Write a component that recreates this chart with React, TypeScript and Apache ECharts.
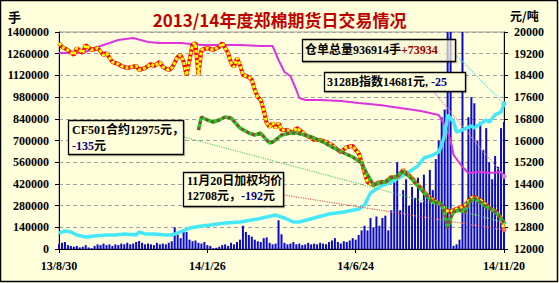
import React, { useEffect, useRef } from 'react';
import * as echarts from 'echarts';

// x axis: trading-day index 0..150, labelled every 50 days
const dateLabels = ['13/8/30', '14/1/26', '14/6/24', '14/11/20'];

// 成交量 (手), one bar per index 0..150, left axis
const volume = [
  30000, 40000, 45000, 25000, 20000, 15000, 20000, 10000, 15000, 25000,
  10000, 5000, 20000, 30000, 25000, 35000, 25000, 30000, 20000, 30000,
  25000, 35000, 30000, 40000, 30000, 35000, 45000, 52000, 40000, 30000,
  35000, 30000, 25000, 40000, 30000, 35000, 30000, 40000, 50000, 140000,
  95000, 70000, 125000, 110000, 60000, 50000, 55000, 40000, 35000, 45000,
  25000, 20000, 5000, 8000, 15000, 25000, 30000, 20000, 40000, 30000,
  45000, 60000, 150000, 110000, 90000, 80000, 60000, 50000, 45000, 70000,
  75000, 40000, 30000, 35000, 185000, 95000, 40000, 30000, 35000, 45000,
  30000, 35000, 25000, 30000, 40000, 30000, 35000, 30000, 40000, 35000,
  30000, 45000, 55000, 70000, 45000, 35000, 50000, 45000, 55000, 70000,
  60000, 90000, 120000, 150000, 120000, 200000, 140000, 210000, 150000, 200000,
  215000, 120000, 250000, 430000, 560000, 250000, 380000, 450000, 280000, 400000,
  330000, 460000, 300000, 480000, 350000, 510000, 380000, 580000, 700000, 850000,
  900000, 1600000, 1600000, 20000, 30000, 60000, 1600000, 300000, 850000, 980000,
  940000, 700000, 820000, 640000, 780000, 560000, 450000, 600000, 530000, 780000, 820000,
];

// 仓单总量 (手), left axis
const receiptIdx = [0, 2, 4, 6, 9, 12, 16, 19, 22, 26, 27, 29, 32, 36, 38, 41, 44, 48, 51, 56, 61, 67, 73, 76, 79, 81, 86, 91, 96, 101, 103, 105, 108, 112, 115, 118, 121, 123, 126, 128, 129, 130, 131, 133, 134, 136, 139, 140, 142, 144, 145, 147, 149, 150];
const receipts = [103000, 116000, 110000, 90000, 77000, 84000, 90000, 90000, 97000, 90000, 110000, 97000, 97000, 90000, 90000, 110000, 135000, 148000, 155000, 168000, 174000, 194000, 219000, 200000, 174000, 174000, 200000, 226000, 239000, 258000, 284000, 361000, 400000, 432000, 465000, 497000, 536000, 587000, 606000, 626000, 671000, 735000, 865000, 819000, 755000, 768000, 794000, 781000, 806000, 832000, 819000, 865000, 884000, 936914];

// 3128B指数 (元/吨), right axis
const indexIdx = [0, 8, 13, 17, 20, 25, 30, 34, 41, 48, 54, 61, 68, 72, 74, 76, 78, 80, 81, 83, 88, 95, 101, 108, 115, 122, 128, 130, 132, 133, 136, 138, 142, 145, 149, 150];
const index3128 = [19226, 19226, 19447, 19594, 19705, 19779, 19631, 19594, 19594, 19521, 19521, 19521, 19484, 19484, 18968, 18525, 18378, 17862, 17567, 17493, 17493, 17456, 17382, 17309, 17198, 17088, 16940, 16572, 16018, 15465, 15023, 14802, 14839, 14802, 14839, 14681];

// 加权均价 (元/吨), right axis
const avgIdx = [0, 1, 3, 5, 6, 8, 9, 11, 13, 15, 16, 18, 20, 21, 23, 26, 27, 29, 31, 32, 34, 35, 37, 38, 40, 41, 42, 43, 45, 46, 47, 48, 50, 52, 54, 55, 56, 57, 58, 59, 60, 61, 62, 64, 65, 66, 67, 68, 69, 70, 71, 72, 73, 74, 75, 77, 79, 80, 82, 83, 85, 86, 88, 90, 92, 94, 95, 97, 99, 100, 101, 102, 103, 104, 106, 108, 110, 112, 114, 116, 117, 119, 120, 122, 124, 126, 128, 129, 130, 132, 133, 135, 137, 139, 140, 142, 144, 145, 147, 149, 150];
const avgPrice = [19594, 19447, 19336, 19152, 19410, 19226, 19521, 19336, 19410, 19152, 19226, 18894, 18820, 18746, 18673, 18746, 18599, 18673, 18820, 18746, 18894, 18710, 18599, 18673, 19078, 19152, 18894, 18400, 19521, 19594, 18415, 19336, 19410, 19336, 19447, 19594, 19410, 19226, 18857, 18710, 19041, 18783, 18415, 18341, 18230, 17862, 17604, 17493, 17124, 16645, 16498, 16645, 16461, 16645, 16387, 16387, 16276, 16461, 16313, 16203, 16092, 16018, 16018, 15945, 15834, 15650, 15576, 15760, 15797, 15650, 15539, 15207, 14802, 14470, 14359, 14470, 14470, 14654, 14654, 14912, 14802, 14617, 14470, 14249, 13991, 13806, 13696, 13622, 13438, 13364, 13438, 13511, 13622, 13880, 13917, 13806, 13622, 13511, 13401, 13143, 12708];

// CF501合约 (元/吨), right axis
const cfIdx = [47, 48, 50, 52, 54, 56, 58, 61, 64, 66, 68, 70, 71, 72, 73, 75, 78, 80, 83, 86, 89, 92, 96, 99, 102, 104, 106, 108, 110, 112, 114, 116, 117, 119, 120, 122, 124, 126, 128, 129, 130, 131, 132, 133, 135, 137, 138, 140, 142, 143, 145, 147, 148, 150];
const cf501 = [16387, 16866, 16756, 16682, 16756, 16866, 16829, 16461, 16276, 16203, 16276, 16018, 15908, 15945, 16018, 16203, 16276, 16276, 16203, 16092, 15945, 15760, 15539, 15392, 15170, 14728, 14359, 14433, 14470, 14617, 14691, 14876, 14765, 14580, 14433, 14212, 13954, 13733, 13696, 13622, 13327, 12774, 13143, 13364, 13438, 13364, 13696, 13880, 13733, 13622, 13511, 13364, 13253, 12975];

const FONT = '"Liberation Serif","Noto Sans CJK SC",serif';
const CJK = '"Noto Sans CJK SC","Liberation Serif",sans-serif';

const zip = (xs: number[], ys: number[]) => xs.map((x, k) => [x, ys[k]]);

function pointer(from: [number, number], to: [number, number], color: string) {
  return {
    silent: true,
    animation: false,
    symbol: ['none', 'circle'],
    symbolSize: 5,
    label: { show: false },
    lineStyle: { type: 'dotted', width: 1.2, color },
    itemStyle: { color },
    data: [[{ x: from[0], y: from[1] }, { coord: to }]],
  };
}

function box(x: number, y: number, w: number, h: number, fill = '#FFFFDC') {
  return {
    type: 'rect',
    shape: { x: x + 0.5, y: y + 0.5, width: w, height: h },
    style: { fill, stroke: '#000', lineWidth: 1.3, shadowColor: 'rgba(0,0,0,0.25)', shadowOffsetX: 1, shadowOffsetY: 1 },
    z: 100,
  };
}

const rich = {
  k: { fill: '#000', color: '#000', fontSize: 12, fontWeight: 'bold', fontFamily: FONT },
  b: { fill: '#000080', color: '#000080', fontSize: 12, fontWeight: 'bold', fontFamily: FONT },
  r: { fill: '#990000', color: '#990000', fontSize: 12, fontWeight: 'bold', fontFamily: FONT },
};

function label(x: number, y: number, text: string) {
  return {
    type: 'text',
    x,
    y,
    z: 101,
    style: { text, rich, align: 'left', verticalAlign: 'middle', fontSize: 12, fontWeight: 'bold', fontFamily: FONT, fill: '#000' },
  };
}

const axisLabelStyle = { color: '#000', fontSize: 12, fontWeight: 'bold', fontFamily: FONT };

const option = {
  animation: false,
  backgroundColor: '#FFFFDC',
  title: {
    text: '2013/14年度郑棉期货日交易情况',
    left: 'center',
    top: 6,
    textStyle: {
      color: '#C00000',
      fontSize: 17,
      fontWeight: 'bold',
      fontFamily: CJK,
      textShadowColor: 'rgba(0,0,0,0.35)',
      textShadowOffsetX: 1,
      textShadowOffsetY: 1,
    },
  },
  grid: { left: 59, right: 55, top: 32, bottom: 34, show: true, backgroundColor: '#FFFFDC', borderColor: '#9a9a9a', borderWidth: 1 },
  xAxis: {
    type: 'value',
    min: 0,
    max: 150,
    interval: 50,
    axisLine: { show: true, lineStyle: { color: '#000', width: 1 } },
    axisTick: { show: true, length: 4, lineStyle: { color: '#000' } },
    splitLine: { show: false },
    axisLabel: { ...axisLabelStyle, margin: 11, formatter: (v: number) => dateLabels[Math.round(v / 50)] ?? '' },
  },
  yAxis: [
    {
      type: 'value',
      min: 0,
      max: 1400000,
      interval: 140000,
      axisLine: { show: true, lineStyle: { color: '#000' } },
      axisTick: { show: true, length: 4, lineStyle: { color: '#000' } },
      splitLine: { show: true, lineStyle: { color: '#A0A0A0', type: [4, 3] } },
      axisLabel: { ...axisLabelStyle, margin: 10, formatter: (v: number) => String(v) },
    },
    {
      type: 'value',
      position: 'right',
      min: 12000,
      max: 20000,
      interval: 800,
      axisLine: { show: true, lineStyle: { color: '#000' } },
      axisTick: { show: true, length: 4, lineStyle: { color: '#000' } },
      splitLine: { show: false },
      axisLabel: { ...axisLabelStyle, margin: 10, formatter: (v: number) => String(v) },
    },
  ],
  series: [
    {
      name: '成交量',
      type: 'bar',
      yAxisIndex: 0,
      data: volume.map((v, i) => [i, v]),
      barWidth: 2,
      clip: true,
      itemStyle: { color: '#0A0ACF' },
      z: 1,
    },
    {
      name: '3128B指数',
      type: 'line',
      yAxisIndex: 1,
      data: zip(indexIdx, index3128),
      symbol: 'none',
      lineStyle: { color: '#DD33DD', width: 2 },
      markLine: pointer([433, 91], [150, 14681], '#E080C0'),
      z: 3,
    },
    {
      name: '仓单总量',
      type: 'line',
      yAxisIndex: 0,
      data: zip(receiptIdx, receipts),
      symbol: 'none',
      lineStyle: { color: '#44E8F8', width: 3.5 },
      markLine: pointer([457, 56], [150, 936914], '#55DDEE'),
      z: 3,
    },
    {
      name: '加权均价',
      type: 'line',
      yAxisIndex: 1,
      data: zip(avgIdx, avgPrice),
      symbol: 'none',
      lineStyle: { color: '#FF0000', width: 4 },
      markLine: pointer([284, 195], [150, 12708], '#E06060'),
      z: 4,
    },
    {
      name: '加权均价2',
      type: 'line',
      yAxisIndex: 1,
      data: zip(avgIdx, avgPrice),
      symbol: 'none',
      lineStyle: { color: '#FFFF00', width: 3, type: [3, 2] },
      z: 5,
    },
    {
      name: 'CF501',
      type: 'line',
      yAxisIndex: 1,
      data: zip(cfIdx, cf501),
      symbol: 'none',
      lineStyle: { color: '#22CC22', width: 3.5 },
      markLine: pointer([184, 137], [150, 12975], '#66CC66'),
      z: 6,
    },
    {
      name: 'CF501b',
      type: 'line',
      yAxisIndex: 1,
      data: zip(cfIdx, cf501),
      symbol: 'none',
      lineStyle: { color: '#8B4A3A', width: 3, type: [3, 3] },
      z: 7,
    },
  ],
  graphic: [
    { type: 'rect', shape: { x: 0.5, y: 0.5, width: 557, height: 281 }, style: { fill: 'none', stroke: '#000', lineWidth: 1.5 }, z: 200 },
    { type: 'text', x: 8, y: 16, style: { text: '手', fill: '#000', fontSize: 13, fontWeight: 'bold', fontFamily: CJK, align: 'left', verticalAlign: 'middle' } },
    { type: 'text', x: 510, y: 15, style: { text: '元/吨', fill: '#000', fontSize: 12, fontWeight: 'bold', fontFamily: CJK, align: 'left', verticalAlign: 'middle' } },
    box(302, 39, 153, 22, 'rgba(255,255,220,0.65)'),
    label(305, 50, '{k|仓单总量936914手}{r|+73934}'),
    box(324, 72, 141, 19),
    label(327, 82, '{k|3128B指数14681元, }{b|-25}'),
    box(68, 120, 115, 34),
    label(72, 130, '{k|CF501合约12975元，}'),
    label(72, 146, '{b|-135}{k|元}'),
    box(183, 172, 100, 34),
    label(187, 181, '{k|11月20日加权均价}'),
    label(187, 196, '{k|12708元，}{b|-192}{k|元}'),
  ],
};

export default function App() {
  const ref = useRef<HTMLDivElement>(null);
  useEffect(() => {
    document.body.style.margin = '0';
    const chart = echarts.init(ref.current!, null, { renderer: 'svg' });
    chart.setOption(option as any);
    return () => chart.dispose();
  }, []);
  return <div ref={ref} style={{ width: 559, height: 283 }} />;
}
